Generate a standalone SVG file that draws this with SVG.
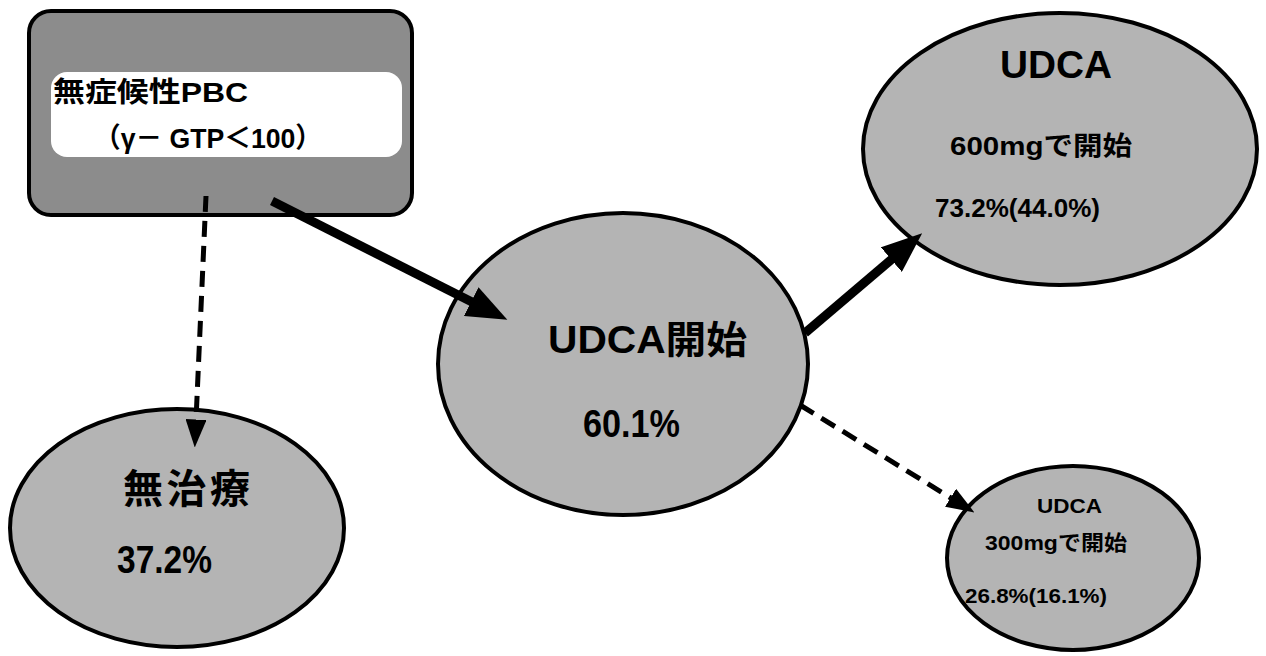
<svg xmlns="http://www.w3.org/2000/svg" width="1266" height="656" viewBox="0 0 1266 656">
<style>
.node{fill:#b4b4b4;stroke:#000;stroke-width:4}
.box{fill:#8c8c8c;stroke:#000;stroke-width:4}
.inner{fill:#fff;stroke:none}
text{font-family:"Liberation Sans","Noto Sans CJK JP",sans-serif;font-weight:bold;fill:#000}
.solid{stroke:#000;stroke-width:9;fill:none;stroke-linecap:butt}
.dash{stroke:#000;stroke-width:5;fill:none;stroke-dasharray:16 9}
</style>
<defs>
<marker id="ah" markerWidth="4.5" markerHeight="3.6" refX="0.1" refY="1.8" orient="auto" markerUnits="strokeWidth"><path d="M0,0 L4.5,1.8 L0,3.6 Z" fill="#000"/></marker>
<marker id="ahd" markerWidth="5.6" markerHeight="4.2" refX="0.1" refY="2.1" orient="auto" markerUnits="strokeWidth"><path d="M0,0 L5.6,2.1 L0,4.2 Z" fill="#000"/></marker>
</defs>
<g id="pbc">
<rect class="box" x="29" y="11" width="383" height="204" rx="22"/>
<rect class="inner" x="51" y="72" width="351" height="85" rx="16"/>
<text x="53" y="102" font-size="28" textLength="195" lengthAdjust="spacingAndGlyphs">無症候性PBC</text>
<text x="94" y="148" font-size="28" textLength="228" lengthAdjust="spacingAndGlyphs">（γ－ GTP＜100）</text>
</g>
<g id="notreat">
<ellipse class="node" cx="177" cy="528" rx="167" ry="119"/>
<text x="123" y="503" font-size="40" textLength="127">無治療</text>
<text x="117" y="573" font-size="38" textLength="95" lengthAdjust="spacingAndGlyphs">37.2%</text>
</g>
<g id="udca">
<ellipse class="node" cx="623" cy="364" rx="185" ry="151"/>
<text x="548" y="353" font-size="38" textLength="199" lengthAdjust="spacingAndGlyphs">UDCA開始</text>
<text x="583" y="437" font-size="38" textLength="97" lengthAdjust="spacingAndGlyphs">60.1%</text>
</g>
<g id="udca600">
<ellipse class="node" cx="1060" cy="149" rx="197" ry="136"/>
<text x="1000" y="78" font-size="38" textLength="112" lengthAdjust="spacingAndGlyphs">UDCA</text>
<text x="950" y="155" font-size="26" textLength="182" lengthAdjust="spacingAndGlyphs">600mgで開始</text>
<text x="935" y="217" font-size="26" textLength="165" lengthAdjust="spacingAndGlyphs">73.2%(44.0%)</text>
</g>
<g id="udca300">
<ellipse class="node" cx="1073" cy="558" rx="126" ry="92"/>
<text x="1037" y="513" font-size="20" textLength="65" lengthAdjust="spacingAndGlyphs">UDCA</text>
<text x="985" y="550" font-size="21" textLength="142" lengthAdjust="spacingAndGlyphs">300mgで開始</text>
<text x="965" y="603" font-size="20" textLength="142" lengthAdjust="spacingAndGlyphs">26.8%(16.1%)</text>
</g>
<g id="connectors">
<line class="solid" x1="272" y1="201" x2="472" y2="302" marker-end="url(#ah)"/>
<line class="solid" x1="805" y1="333" x2="892" y2="259" marker-end="url(#ah)"/>
<line class="dash" x1="206" y1="196" x2="196" y2="420" marker-end="url(#ahd)"/>
<line class="dash" x1="800" y1="405" x2="951" y2="498" marker-end="url(#ahd)"/>
</g>
</svg>
